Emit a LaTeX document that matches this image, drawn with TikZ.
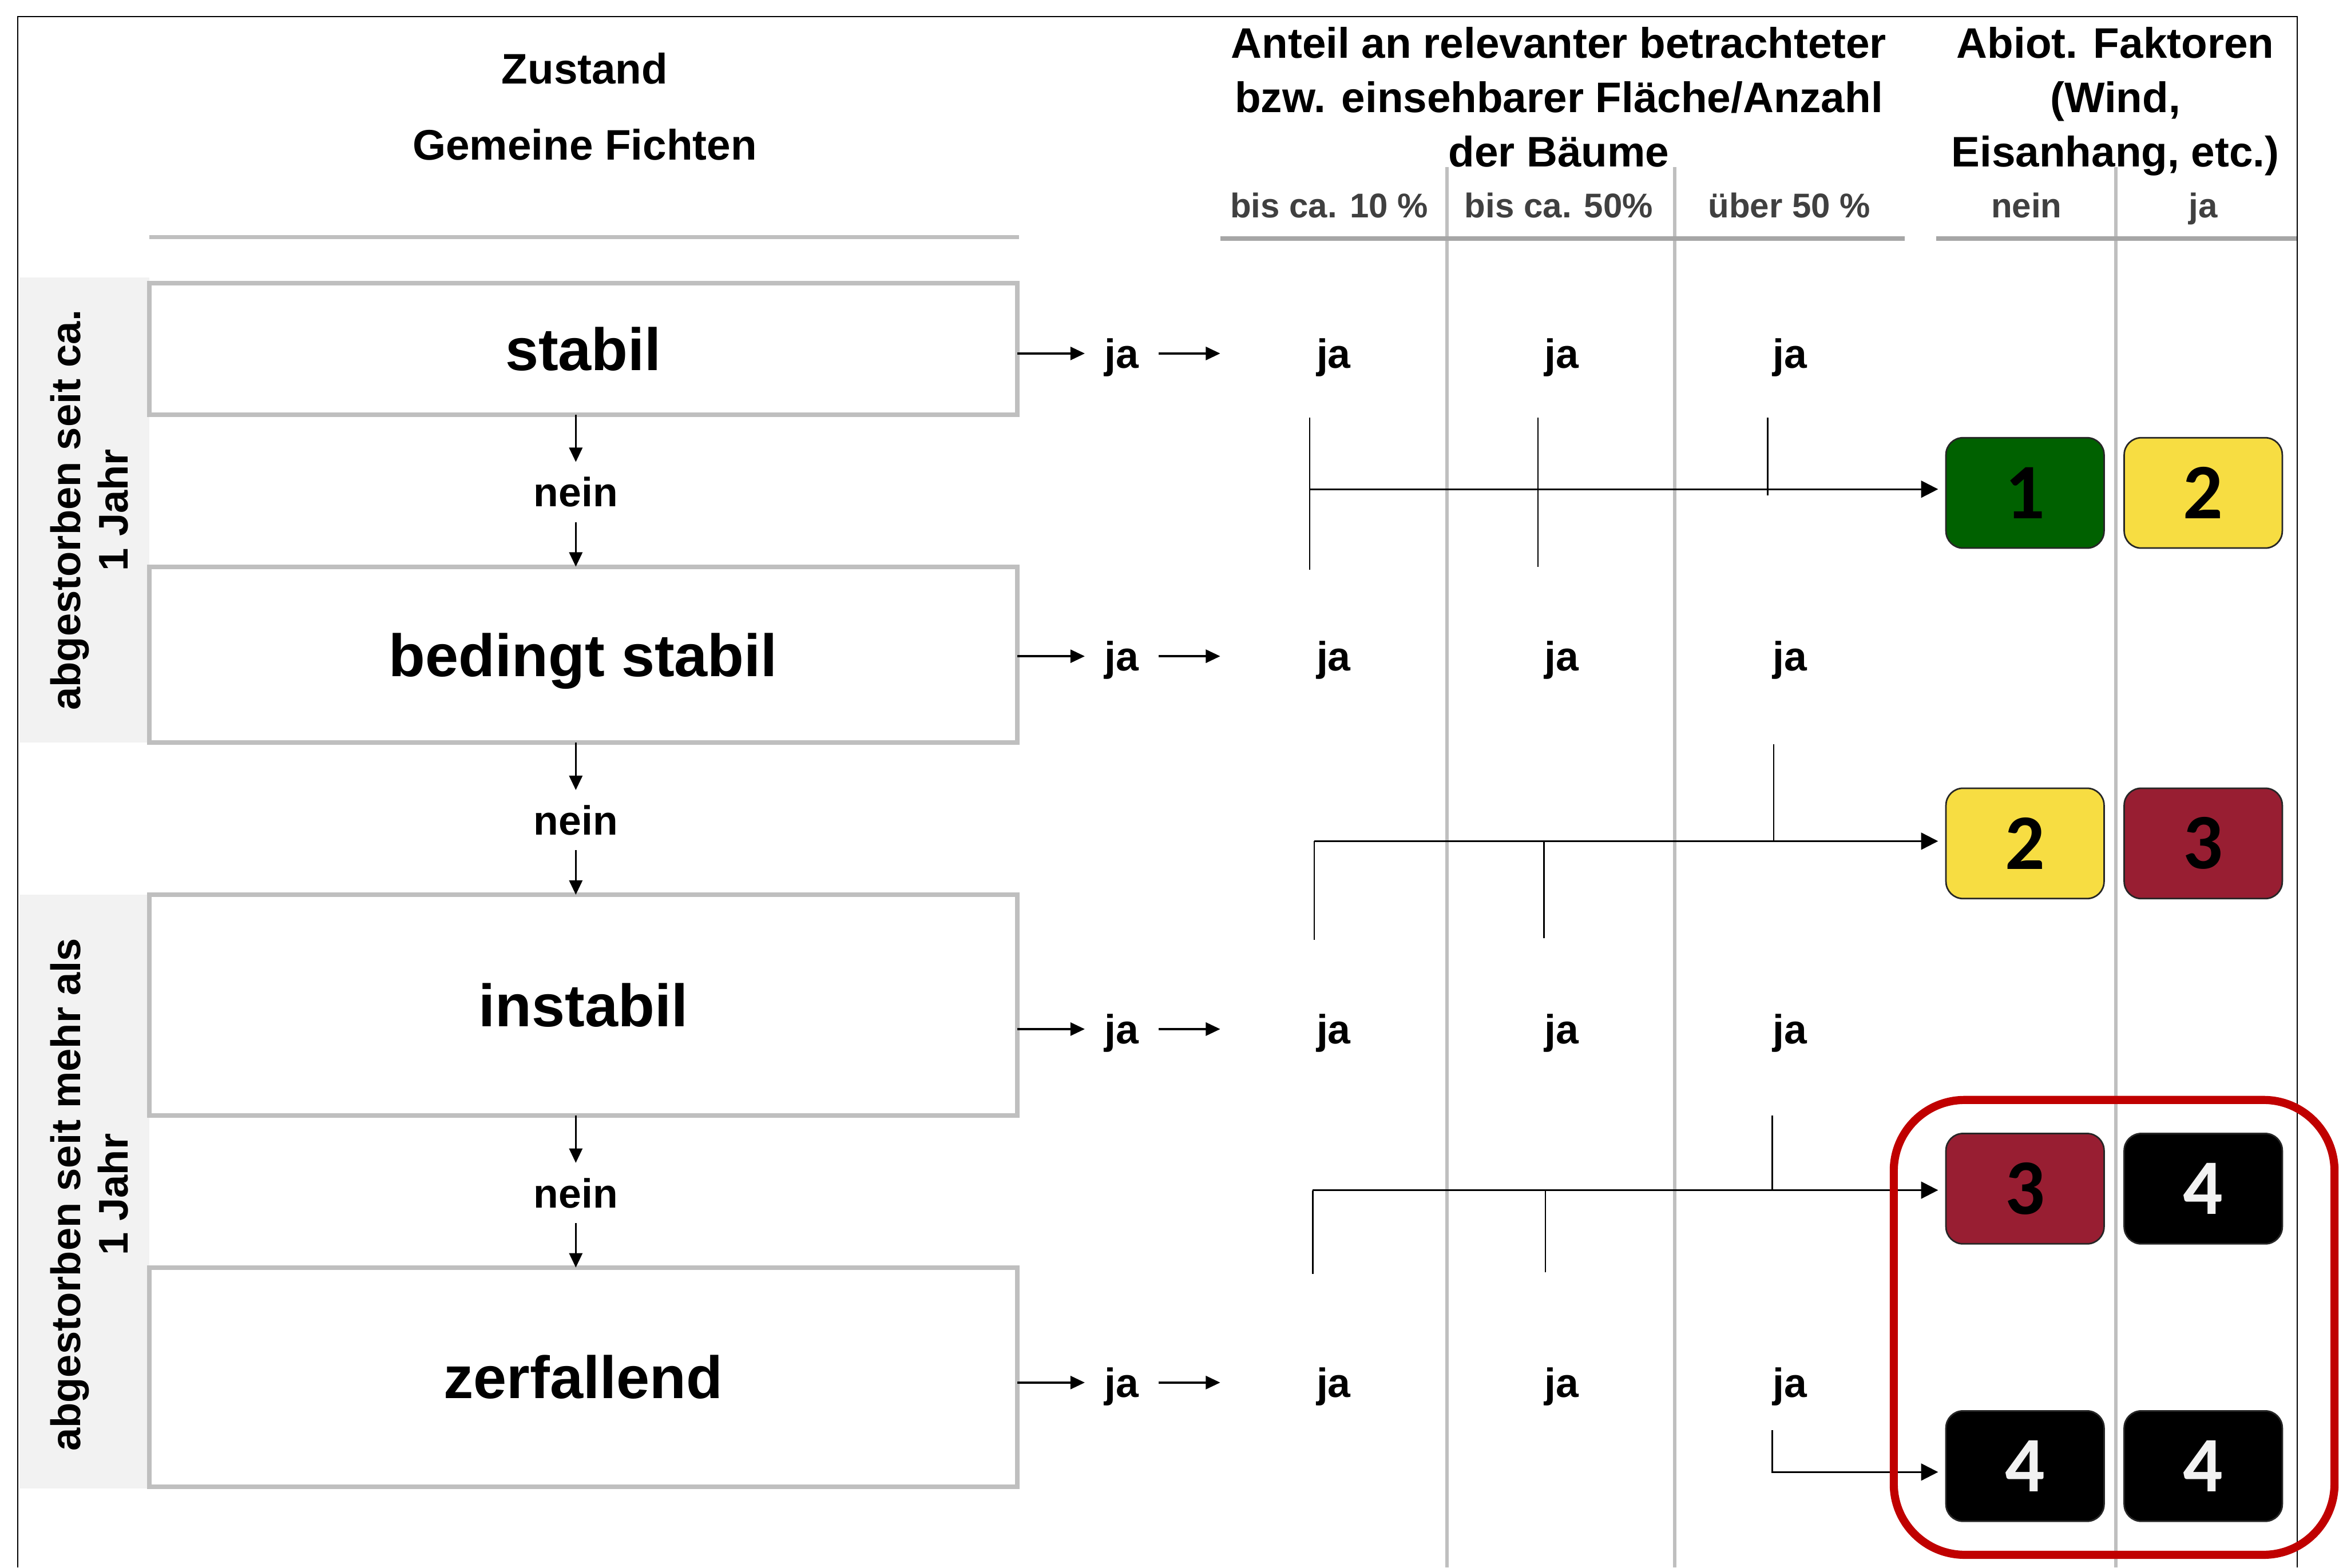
\documentclass[tikz,border=0pt]{standalone}
\usepackage{fontspec}
\setmainfont{Liberation Sans}
\newfontfamily\numfont{Carlito}
\usetikzlibrary{arrows.meta,positioning,calc,fit}

\definecolor{fgreen}{RGB}{0,97,0}
\definecolor{fyellow}{RGB}{247,221,66}
\definecolor{fred}{RGB}{152,30,50}
\definecolor{hlred}{RGB}{192,0,0}
\definecolor{bandgray}{RGB}{242,242,242}
\definecolor{linegray}{RGB}{191,191,191}
\definecolor{rulegray}{RGB}{166,166,166}
\definecolor{subgray}{RGB}{64,64,64}

\begin{document}
\begin{tikzpicture}[x=0.02cm, y=-0.02cm,
    txt/.style={inner sep=0pt, text height=11.2pt, text depth=0pt, font=\bfseries\fontsize{15.6}{18}\selectfont},
    sub/.style={inner sep=0pt, text height=9.4pt, text depth=0pt, text=subgray, font=\bfseries\fontsize{13.1}{16}\selectfont},
    title/.style={inner sep=0pt, text height=11.7pt, text depth=0pt, font=\bfseries\fontsize{16.3}{20}\selectfont},
    head/.style={align=center, inner sep=0pt, anchor=north, font=\bfseries\fontsize{16.3}{20.7}\selectfont},
    side/.style={rotate=90, align=center, inner sep=0pt, font=\bfseries\fontsize{15.8}{18.2}\selectfont},
    state/.style={rectangle, draw=linegray, line width=1.7pt, fill=white, minimum width=11.64cm, inner sep=0pt, outer sep=0pt, text height=16.4pt, text depth=0pt, font=\bfseries\fontsize{22.8}{27}\selectfont},
    cls/.style={rectangle, rounded corners=6.5pt, draw=black!85, line width=0.6pt, minimum width=2.12cm, minimum height=1.48cm, inner sep=0pt, outer sep=0pt, font=\numfont\bfseries\fontsize{30}{32}\selectfont},
    conn/.style={line width=0.6pt},
    carr/.style={conn, -{Triangle[length=6.5pt, width=6.5pt]}, shorten >=3pt},
    sarr/.style={line width=0.8pt, -{Triangle[length=5.5pt, width=5pt]}},
    rule/.style={line width=1.7pt}
]
    \useasboundingbox (0,0) rectangle (1568,1051);

    % Side bands
    \fill[bandgray] (13,186) rectangle (100,498);
    \fill[bandgray] (13,600) rectangle (100,998);
    \node[side] (band1) at (60,342) {abgestorben seit ca.\\1 Jahr};
    \node[side] (band2) at (60,801) {abgestorben seit mehr als\\1 Jahr};

    % Table grid
    \coordinate (tabL) at (818,160);
    \draw[linegray, line width=1.2pt] (970,112) -- (970,1051);
    \draw[linegray, line width=1.2pt] (1122.6,112) -- (1122.6,1051);
    \draw[linegray, line width=1.2pt] (1418.3,112) -- (1418.3,1051);
    \draw[rule, linegray] (100,159) -- (683,159);
    \draw[rule, rulegray] (tabL) -- (1277,160);
    \draw[rule, rulegray] (1298,160) -- (1540,160);

    % Frame
    \draw[line width=0.5pt] (12,1051) -- (12,11) -- (1540,11) -- (1540,1051);

    % Headers
    \node[title] (zust) at (392,46) {Zustand};
    \node[title] (fichten) at (392,97) {Gemeine Fichten};
    \node[head] (anteil) at (1045,18) {Anteil an relevanter betrachteter\\bzw. einsehbarer Fläche/Anzahl\\der Bäume};
    \node[head] (abiot) at (1418,18) {Abiot. Faktoren\\(Wind,\\Eisanhang, etc.)};
    \node[sub] (s1) at (891,137.5) {bis ca. 10 \%};
    \node[sub] (s2) at (1045,137.5) {bis ca. 50\%};
    \node[sub] (s3) at (1199.5,137.5) {über 50 \%};
    \node[sub] (s4) at (1358.5,137.5) {nein};
    \node[sub] (s5) at (1477,137.5) {ja};

    % States
    \node[state, minimum height=1.76cm] (stabil) at (391,234) {stabil};
    \node[state, minimum height=2.36cm, below=2.04cm of stabil] (bedingt) {bedingt stabil};
    \node[state, minimum height=2.96cm, below=2.04cm of bedingt] (instabil) {instabil};
    \node[state, minimum height=2.94cm, below=2.04cm of instabil] (zerfall) {zerfallend};

    % nein
    \node[txt, inner ysep=0.2cm] (nein1) at ($(stabil.south)!0.5!(bedingt.north)+(-5,1)$) {nein};
    \node[txt, inner ysep=0.2cm] (nein2) at ($(bedingt.south)!0.5!(instabil.north)+(-5,1)$) {nein};
    \node[txt, inner ysep=0.2cm] (nein3) at ($(instabil.south)!0.5!(zerfall.north)+(-5,1)$) {nein};
    \draw[sarr] (stabil.south -| nein1.north) -- (nein1.north);
    \draw[sarr] (nein1.south) -- (nein1.south |- bedingt.north);
    \draw[sarr] (bedingt.south -| nein2.north) -- (nein2.north);
    \draw[sarr] (nein2.south) -- (nein2.south |- instabil.north);
    \draw[sarr] (instabil.south -| nein3.north) -- (nein3.north);
    \draw[sarr] (nein3.south) -- (nein3.south |- zerfall.north);

    % ja
    \node[txt, inner xsep=0.26cm] (ja1) at (752,237) {ja};
    \node[txt, inner xsep=0.26cm] (ja2) at (752,440) {ja};
    \node[txt, inner xsep=0.26cm] (ja3) at (752,690) {ja};
    \node[txt, inner xsep=0.26cm] (ja4) at (752,927) {ja};
    \draw[sarr] (stabil.east |- ja1) -- (ja1.west);
    \draw[sarr] (ja1.east) -- (ja1.east -| tabL);
    \draw[sarr] (bedingt.east |- ja2) -- (ja2.west);
    \draw[sarr] (ja2.east) -- (ja2.east -| tabL);
    \draw[sarr] (instabil.east |- ja3) -- (ja3.west);
    \draw[sarr] (ja3.east) -- (ja3.east -| tabL);
    \draw[sarr] (zerfall.east |- ja4) -- (ja4.west);
    \draw[sarr] (ja4.east) -- (ja4.east -| tabL);

    % Table entries
    \node[txt] (t11) at (894,237) {ja};
    \node[txt] (t12) at (1047,237) {ja};
    \node[txt] (t13) at (1200,237) {ja};
    \node[txt] (t21) at (894,440) {ja};
    \node[txt] (t22) at (1047,440) {ja};
    \node[txt] (t23) at (1200,440) {ja};
    \node[txt] (t31) at (894,690) {ja};
    \node[txt] (t32) at (1047,690) {ja};
    \node[txt] (t33) at (1200,690) {ja};
    \node[txt] (t41) at (894,927) {ja};
    \node[txt] (t42) at (1047,927) {ja};
    \node[txt] (t43) at (1200,927) {ja};

    % Classes
    \node[cls, fill=fgreen] (g1) at (1357.5,330.5) {1};
    \node[cls, fill=fyellow, right=0.27cm of g1] (y12) {2};
    \node[cls, fill=fyellow] (y2) at (1357.5,565.5) {2};
    \node[cls, fill=fred, right=0.27cm of y2] (r23) {3};
    \node[cls, fill=fred] (r3) at (1357.5,797) {3};
    \node[cls, fill=black, text=white!95!black, right=0.27cm of r3] (k34) {4};
    \node[cls, fill=black, text=white!95!black] (k4) at (1357.5,983) {4};
    \node[cls, fill=black, text=white!95!black, right=0.27cm of k4] (k44) {4};

    % Connectors
    \coordinate (bus1) at ($(t11)+(-16,91)$);
    \draw[conn] ($(t11)+(-16,43)$) -- ++(0,102);
    \draw[conn] ($(t12)+(-16,43)$) -- ++(0,100);
    \draw[conn] ($(t13)+(-15,43)$) -- ++(0,52);
    \draw[carr] (bus1) -- (bus1 -| g1.west);

    \coordinate (bus2) at ($(t21)+(-13,124)$);
    \draw[conn] ($(t23)+(-11,59)$) -- ++(0,65);
    \draw[carr] (bus2) -- (bus2 -| y2.west);
    \draw[conn] (bus2) -- ++(0,66);
    \draw[conn] ($(t22)+(-12,124)$) -- ++(0,65);

    \coordinate (bus3) at ($(t31)+(-14,108)$);
    \draw[conn] ($(t33)+(-12,58)$) -- ++(0,50);
    \draw[carr] (bus3) -- (bus3 -| r3.west);
    \draw[conn] (bus3) -- ++(0,56);
    \draw[conn] ($(t32)+(-11,108)$) -- ++(0,55);

    \draw[carr] ($(t43)+(-12,32)$) |- ($(k4.west)+(0,4)$);

    % Highlight
    \node[draw=hlred, line width=3.1pt, rounded corners=0.95cm, inner xsep=0.7cm, inner ysep=0.45cm, fit=(r3)(k44)] (hl) {};

\end{tikzpicture}
\end{document}
